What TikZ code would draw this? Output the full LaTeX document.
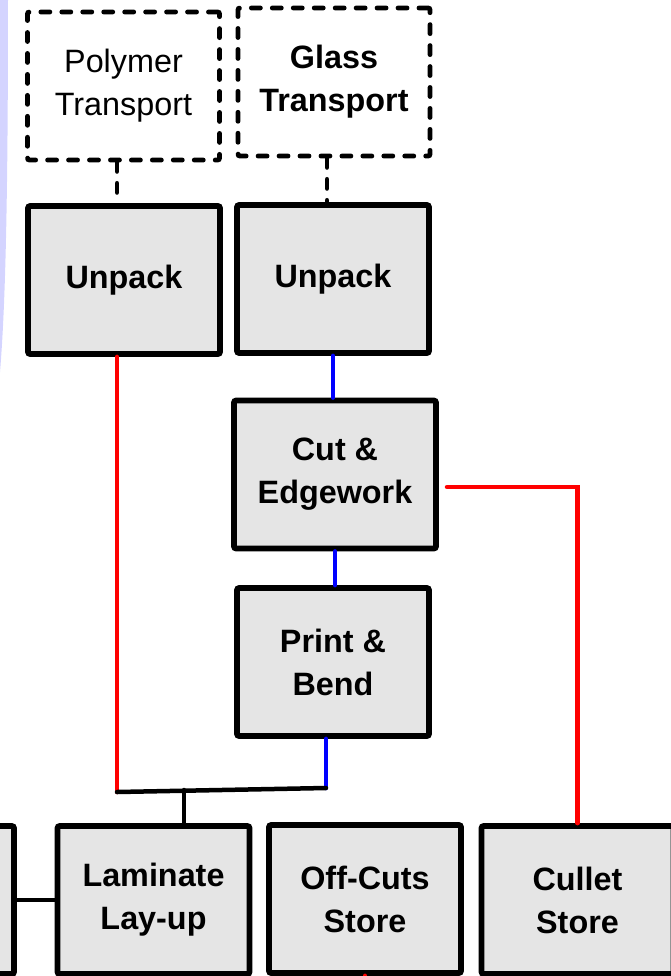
\documentclass[tikz,border=0pt]{standalone}
\usepackage{fontspec}
\setmainfont{Liberation Sans}
\usepackage{xcolor}
\usetikzlibrary{positioning,calc}
\definecolor{boxgray}{HTML}{E5E5E5}
\definecolor{lavband}{HTML}{D4D4FF}

\begin{document}
\begin{tikzpicture}[x=0.025cm, y=-0.025cm,
  proc/.style={draw=black, line width=4pt, fill=boxgray, rounded corners=1.5pt,
               minimum width=4.8cm, minimum height=3.7cm, align=center,
               font=\fontsize{23}{30.5}\selectfont\bfseries},
  ext/.style={proc, fill=none, line width=3.5pt, line cap=round,
              dash pattern=on 6.3pt off 8.6pt},
  link/.style={line width=3.2pt, line cap=round},
  redlink/.style={link, draw=red},
  bluelink/.style={link, draw=blue},
  dashlink/.style={link, line width=3.5pt, dash pattern=on 6.3pt off 8.6pt},
]
\useasboundingbox (0,0) rectangle (671,976);
\clip (0,0) rectangle (671,976);

% Side band
\fill[lavband] (0,0) -- (8,0) .. controls (8,180) and (6,300) .. (0,372) -- cycle;

% Transport
\node[ext, font=\fontsize{23}{30.5}\selectfont] (polyT) at (123.5,86) {Polymer\\Transport};
\node[ext] (glassT) at (334,82) {Glass\\Transport};

% Unpack
\node[proc] (unpackP) at (124,280) {Unpack};
\node[proc] (unpackG) at (333,279) {Unpack};

% Glass line
\node[proc, minimum width=5.05cm] (cut) at (335,474.5) {Cut \&\\Edgework};
\node[proc] (print) at (333,662) {Print \&\\Bend};

% Bottom row
\node[proc] (left) at (-82,900) {};
\node[proc] (laminate) at (153.5,900) {Laminate\\Lay-up};
\node[proc] (offcuts) at (365,899) {Off-Cuts\\Store};
\node[proc] (cullet) at (577.5,900) {Cullet\\Store};

% Join points
\coordinate (jl) at (117,792);
\coordinate (jr) at (326,788);
\coordinate (jm) at (184,790);
\coordinate (gx) at (327,180);
\coordinate (ce) at (447,487);

% Connectors
\draw[dashlink] (polyT.south -| jl) -- (unpackP.north -| jl);
\draw[dashlink] (glassT.south -| gx) -- (unpackG.north -| gx);
\draw[bluelink] (unpackG.south) -- (unpackG.south |- cut.north);
\draw[bluelink] (cut.south) -- (cut.south |- print.north);
\draw[bluelink] (print.south -| jr) -- (jr);
\draw[redlink] (unpackP.south -| jl) -- (jl);
\draw[link] (jl) -- (jr);
\draw[link] (jm) -- (laminate.north -| jm);
\draw[link] (left.east) -- (laminate.west);
\draw[redlink] (ce) -| (cullet.north);
\draw[redlink] (offcuts.south) -- ++(0,10);

\end{tikzpicture}
\end{document}
